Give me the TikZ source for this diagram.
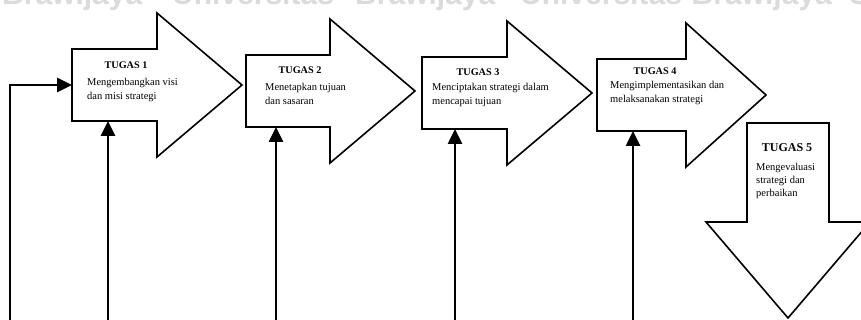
\documentclass[tikz,border=0pt]{standalone}
\usepackage{fontspec}
\setmainfont{Liberation Serif}
\newfontfamily\wmfont{Liberation Sans}
\usetikzlibrary{arrows.meta}

\tikzset{
  panah/.style={draw=black,line width=1.6pt,fill=white,line join=miter},
  balik/.style={line width=2.6pt,-{Triangle[length=15pt,width=14pt]}},
  judul/.style={font=\bfseries\fontsize{10.2}{12}\selectfont,inner sep=0pt},
  isi/.style={font=\fontsize{10.5}{14}\selectfont,align=left,anchor=north west,inner sep=0pt},
  wm/.style={text=black!14,font=\wmfont\bfseries\fontsize{30}{30}\selectfont,inner sep=0pt}
}

\begin{document}
\begin{tikzpicture}[x=1pt,y=-1pt]
\useasboundingbox (0,0) rectangle (861,320);
\clip (0,0) rectangle (861,320);

% watermark di atas
\node[wm,anchor=base west] (wm1) at (2,5) {Brawijaya};
\node[wm,anchor=base west] (wm2) at (172,5) {Universitas};
\node[wm,anchor=base west] (wm3) at (355,5) {Brawijaya};
\node[wm,anchor=base west] (wm4) at (520,5) {Universitas};
\node[wm,anchor=base east] (wm5) at (832,5) {Brawijaya};
\node[wm,anchor=base west] (wm6) at (848,5) {U};

% panah tugas 1-4: nomor/kiri/pangkal kepala/ujung/tengah
\foreach \i/\xl/\xb/\xt/\yc in {1/72/157/242/85, 2/246/330/415/91, 3/422/507/592/93, 4/597/686/766/95}{
  \coordinate (k\i) at (\xl,\yc);
  \draw[panah] (\xl,\yc-36) -- (\xb,\yc-36) -- (\xb,\yc-72) -- (\xt,\yc)
    -- (\xb,\yc+72) -- (\xb,\yc+36) -- (\xl,\yc+36) -- cycle;
}

% panah tugas 5 (ke bawah)
\coordinate (b1) at (747,123);
\coordinate (b2) at (829,123);
\coordinate (b3) at (829,222);
\coordinate (b4) at (870,222);
\coordinate (b5) at (788,318);
\coordinate (b6) at (706,222);
\coordinate (b7) at (747,222);
\draw[panah] (b1)--(b2)--(b3)--(b4)--(b5)--(b6)--(b7)--cycle;

% garis umpan balik
\coordinate (f0) at (10,322);
\coordinate (s0) at (10,85);
\coordinate (f1) at (108,322);
\coordinate (u1) at (108,121);
\coordinate (f2) at (276,322);
\coordinate (u2) at (276,127);
\coordinate (f3) at (455,322);
\coordinate (u3) at (455,129);
\coordinate (f4) at (633,322);
\coordinate (u4) at (633,131);

\draw[balik] (f0)--(s0)--(k1);
\foreach \i in {1,...,4}
\draw[balik] (f\i)--(u\i);

% teks
\node[judul] (t1) at (126,65) {TUGAS 1};
\node[isi] (d1) at (87,78) {Mengembangkan visi\\dan misi strategi};
\node[judul] (t2) at (300,70) {TUGAS 2};
\node[isi] (d2) at (265,83) {Menetapkan tujuan\\dan sasaran};
\node[judul] (t3) at (478,72) {TUGAS 3};
\node[isi] (d3) at (432,83) {Menciptakan strategi dalam\\mencapai tujuan};
\node[judul] (t4) at (655,71) {TUGAS 4};
\node[isi] (d4) at (610,81) {Mengimplementasikan dan\\melaksanakan strategi};
\node[judul,font=\bfseries\fontsize{12}{14}\selectfont] (t5) at (787,148) {TUGAS 5};
\node[isi,font=\fontsize{10.5}{13}\selectfont] (d5) at (756,163) {Mengevaluasi\\strategi dan\\perbaikan};
\end{tikzpicture}
\end{document}
